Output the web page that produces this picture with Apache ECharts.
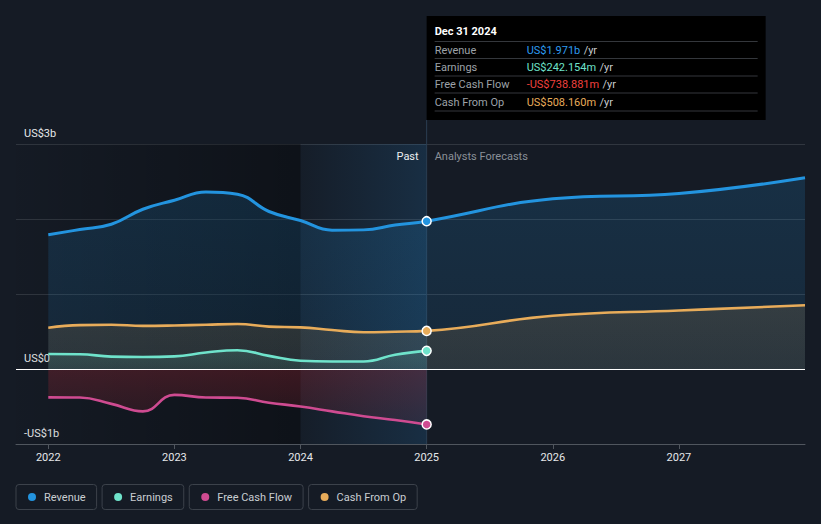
<!DOCTYPE html>
<html><head><meta charset="utf-8">
<script src="https://cdn.jsdelivr.net/npm/echarts@6/dist/echarts.min.js"></script>
<style>html,body{margin:0;padding:0;background:#151b25;}#c{width:821px;height:524px;}</style>
</head><body><div id="c"></div>
<script>
// ---- data ----
const pastX = [2022, 2022.25, 2022.5, 2022.75, 2023, 2023.25, 2023.5, 2023.75, 2024, 2024.25, 2024.5, 2024.75, 2025];
const revenuePast  = [1.79, 1.86, 1.93, 2.13, 2.25, 2.36, 2.33, 2.10, 1.98, 1.85, 1.855, 1.92, 1.971];
const earningsPast = [0.20, 0.197, 0.165, 0.16, 0.168, 0.22, 0.25, 0.175, 0.11, 0.10, 0.10, 0.19, 0.242154];
const fcfPast      = [-0.378, -0.38, -0.465, -0.565, -0.345, -0.38, -0.383, -0.45, -0.50, -0.565, -0.63, -0.68, -0.738881];
const cfoPast      = [0.55, 0.585, 0.59, 0.575, 0.58, 0.59, 0.60, 0.565, 0.555, 0.52, 0.49, 0.497, 0.50816];
const forecastX = [2026, 2027, 2028];
const revenueForecast = [2.27, 2.34, 2.55];
const cfoForecast     = [0.71, 0.78, 0.85];
const yearTicks = [2022, 2023, 2024, 2025, 2026, 2027];
const yLabels = {"3": "US$3b", "0": "US$0", "-1": "-US$1b"};
const seriesNames = ['Revenue', 'Earnings', 'Free Cash Flow', 'Cash From Op'];
const tipDate = 'Dec 31 2024';

// ---- style ----
const C = {rev: '#2394df', earn: '#6fe3cb', fcf: '#cf4b91', cfo: '#e8ac5a'};
const legendColors = [C.rev, C.earn, C.fcf, C.cfo];
const FONT = 'Roboto, "Noto Sans", sans-serif';
const X_MIN = 2021.744, X_MAX = 2028, NOW = 2025, PAST_START = 2024;

function pairs(xs, ys) { return xs.map((x, i) => [x, ys[i]]); }
function marked(list, color) {
  return list.map(p => p[0] === NOW ? {value: p, symbol: 'circle', symbolSize: 9,
    itemStyle: {color: color, borderColor: '#ffffff', borderWidth: 1.5}} : p);
}
function vgrad(c0, c1) { return new echarts.graphic.LinearGradient(0, 0, 0, 1, [{offset: 0, color: c0}, {offset: 1, color: c1}]); }
function hgrad(c0, c1) { return new echarts.graphic.LinearGradient(0, 0, 1, 0, [{offset: 0, color: c0}, {offset: 1, color: c1}]); }
function fmt(v) {
  const a = Math.abs(v), s = v < 0 ? '-' : '';
  return a >= 1 ? s + 'US$' + a.toFixed(3) + 'b' : s + 'US$' + (a * 1000).toFixed(3) + 'm';
}

const revData = marked(pairs(pastX, revenuePast).concat(pairs(forecastX, revenueForecast)), C.rev);
const cfoData = marked(pairs(pastX, cfoPast).concat(pairs(forecastX, cfoForecast)), C.cfo);
const earnData = marked(pairs(pastX, earningsPast), C.earn);
const fcfData = marked(pairs(pastX, fcfPast), C.fcf);

const chart = echarts.init(document.getElementById('c'), null, {renderer: 'svg'});

const rich = {t: {color: '#c9cdd2', fontSize: 11, fontFamily: FONT, padding: [0, 0, 0, 8]}};
legendColors.forEach((c, i) => { rich['d' + i] = {width: 8, height: 8, borderRadius: 4, backgroundColor: c}; });

const lineBase = {type: 'line', smooth: 0.45, symbol: 'none', showSymbol: true, silent: true};

chart.setOption({
  backgroundColor: '#151b25',
  animation: false,
  textStyle: {fontFamily: FONT},
  grid: {left: 16, right: 16, top: 144, bottom: 80},
  xAxis: {
    type: 'value', min: X_MIN, max: X_MAX,
    splitLine: {show: false},
    axisLine: {show: true, onZero: false, lineStyle: {color: '#50565e', width: 1}},
    axisTick: {show: true, customValues: yearTicks, length: 5, lineStyle: {color: '#50565e'}},
    axisLabel: {customValues: yearTicks, color: '#e6e8ea', fontSize: 11, margin: 8, formatter: v => String(Math.round(v))}
  },
  yAxis: {
    type: 'value', min: -1, max: 3, interval: 1,
    axisLine: {show: false}, axisTick: {show: false},
    splitLine: {show: true, lineStyle: {color: '#30363f', width: 1}},
    axisLabel: {inside: true, margin: 8, color: '#e6e8ea', fontSize: 11, verticalAlign: 'bottom',
      padding: [0, 0, 5, 0], showMinLabel: true, showMaxLabel: true,
      formatter: v => yLabels[String(v)] || ''}
  },
  legend: {
    left: 11, top: 484, padding: 0, itemGap: 0, itemWidth: 0, itemHeight: 0, icon: 'circle', selectedMode: false,
    data: seriesNames,
    formatter: name => '{d' + seriesNames.indexOf(name) + '|}{t|' + name + '}',
    textStyle: {borderColor: '#3c424b', borderWidth: 1, borderRadius: 3, padding: [7, 11, 7, 12], rich: rich}
  },
  series: [
    {type: 'line', name: 'bg', data: [], z: 1, silent: true,
      markArea: {silent: true, data: [
        [{xAxis: X_MIN, itemStyle: {color: hgrad('rgba(0,0,0,0.02)', 'rgba(0,0,0,0.34)')}}, {xAxis: PAST_START}],
        [{xAxis: PAST_START, itemStyle: {color: hgrad('rgba(40,140,215,0.02)', 'rgba(40,140,215,0.17)')}}, {xAxis: NOW}]
      ]}},
    Object.assign({}, lineBase, {name: 'Revenue', data: revData, z: 2,
      lineStyle: {color: C.rev, width: 3}, itemStyle: {color: C.rev},
      areaStyle: {color: vgrad('rgba(35,148,223,0.24)', 'rgba(35,148,223,0.16)')}}),
    Object.assign({}, lineBase, {name: 'Cash From Op', data: cfoData, z: 3,
      lineStyle: {color: C.cfo, width: 2.6}, itemStyle: {color: C.cfo},
      areaStyle: {color: vgrad('rgba(232,172,90,0.2)', 'rgba(232,172,90,0.14)')}}),
    Object.assign({}, lineBase, {name: 'Earnings', data: earnData, z: 4,
      lineStyle: {color: C.earn, width: 2.6}, itemStyle: {color: C.earn},
      areaStyle: {color: vgrad('rgba(111,227,203,0.2)', 'rgba(111,227,203,0.12)')}}),
    Object.assign({}, lineBase, {name: 'Free Cash Flow', data: fcfData, z: 4,
      lineStyle: {color: C.fcf, width: 2.6}, itemStyle: {color: C.fcf},
      areaStyle: {color: vgrad('rgba(215,45,60,0.32)', 'rgba(215,45,60,0.14)')}}),
    {type: 'line', name: 'zero', data: [], z: 5, silent: true,
      markLine: {silent: true, symbol: ['none', 'none'], label: {show: false},
        lineStyle: {color: '#ffffff', width: 1, type: 'solid'}, data: [{yAxis: 0}]}}
  ]
});

// overlays positioned from the axes
const px = chart.convertToPixel({xAxisIndex: 0}, NOW);
const topY = chart.convertToPixel({yAxisIndex: 0}, 3);
const botY = chart.convertToPixel({yAxisIndex: 0}, -1);
const tipRows = [
  {label: 'Revenue', value: fmt(revenuePast[revenuePast.length - 1]), color: '#2d9cf0'},
  {label: 'Earnings', value: fmt(earningsPast[earningsPast.length - 1]), color: '#6fe3cb'},
  {label: 'Free Cash Flow', value: fmt(fcfPast[fcfPast.length - 1]), color: '#f0403e'},
  {label: 'Cash From Op', value: fmt(cfoPast[cfoPast.length - 1]), color: '#e8ac5a'}
];
const tipChildren = [
  {type: 'rect', shape: {x: 0, y: 0, width: 339, height: 104}, style: {fill: '#000000'}},
  {type: 'text', x: 8, y: 15, style: {text: tipDate, fill: '#ffffff', font: 'bold 11px ' + FONT, verticalAlign: 'middle'}}
];
const sepY = [25.5, 42.5, 60, 77, 95];
sepY.forEach(y => tipChildren.push({type: 'line', shape: {x1: 8, y1: y, x2: 331, y2: y}, style: {stroke: '#34373c', lineWidth: 1}}));
tipRows.forEach((r, i) => {
  const y = (sepY[i] + sepY[i + 1]) / 2;
  tipChildren.push({type: 'text', x: 8, y: y, style: {text: r.label, fill: '#9da2a8', font: '11px ' + FONT, verticalAlign: 'middle'}});
  tipChildren.push({type: 'text', x: 100, y: y, style: {text: '{v|' + r.value + '} {u|/yr}', verticalAlign: 'middle',
    rich: {v: {fill: r.color, font: '11px ' + FONT}, u: {fill: '#c8cbcf', font: '11px ' + FONT}}}});
});

chart.setOption({graphic: [
  {type: 'line', z: 1, silent: true, shape: {x1: px, y1: 120, x2: px, y2: botY}, style: {stroke: '#2b3e52', lineWidth: 1}},
  {type: 'text', z: 6, x: px - 8, y: topY + 12, style: {text: 'Past', fill: '#eceef0', font: '11px ' + FONT, align: 'right', verticalAlign: 'middle'}},
  {type: 'text', z: 6, x: px + 8, y: topY + 12, style: {text: 'Analysts Forecasts', fill: '#8a9098', font: '11px ' + FONT, align: 'left', verticalAlign: 'middle'}},
  {type: 'group', z: 10, x: px, y: 16, children: tipChildren}
]});
</script></body></html>
